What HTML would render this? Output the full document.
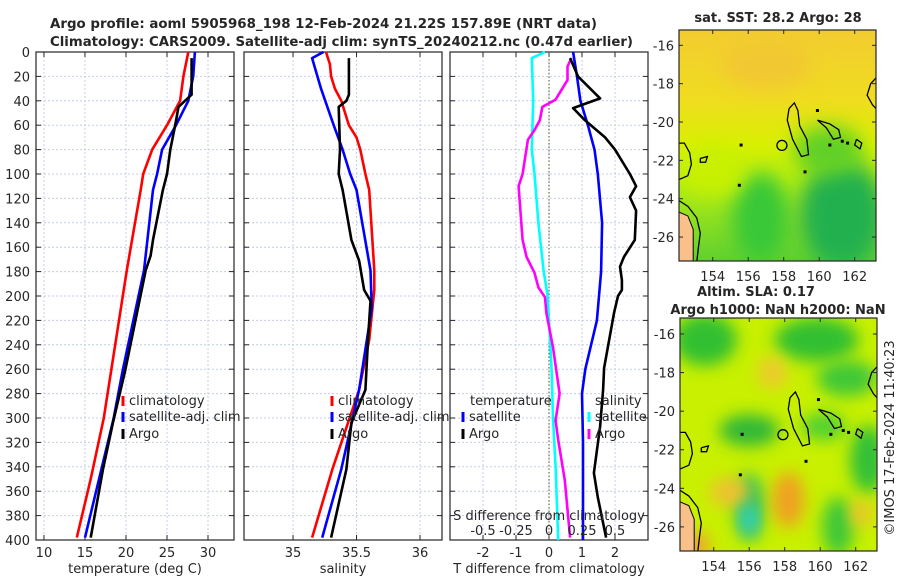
<!DOCTYPE html>
<html><head><meta charset="utf-8">
<style>
body{margin:0;background:#fff;}
svg text{font-family:"DejaVu Sans","Liberation Sans",sans-serif;fill:#262626;}
</style></head>
<body>
<svg id="fig" width="900" height="580" xmlns="http://www.w3.org/2000/svg">
<defs>
<filter id="blur1" x="-50%" y="-50%" width="200%" height="200%"><feGaussianBlur stdDeviation="10"/></filter>
<filter id="blur2" x="-50%" y="-50%" width="200%" height="200%"><feGaussianBlur stdDeviation="8"/></filter>
<linearGradient id="sstTop" x1="0" y1="0" x2="0" y2="1">
<stop offset="0" stop-color="#f2cc30"/><stop offset="0.3" stop-color="#f0dc20"/><stop offset="0.5" stop-color="#d8f000"/><stop offset="0.65" stop-color="#b8ee10"/><stop offset="1" stop-color="#60d030"/>
</linearGradient>
<clipPath id="clipM1"><rect x="679" y="30" width="197" height="231"/></clipPath>
<clipPath id="clipM2"><rect x="680" y="318" width="197" height="233"/></clipPath>
</defs>
<text x="50" y="28" font-size="13" font-weight="bold" textLength="547" lengthAdjust="spacingAndGlyphs">Argo profile: aoml 5905968_198 12-Feb-2024 21.22S 157.89E (NRT data)</text>
<text x="50" y="46" font-size="13" font-weight="bold" textLength="583" lengthAdjust="spacingAndGlyphs">Climatology: CARS2009. Satellite-adj clim: synTS_20240212.nc (0.47d earlier)</text>
<g id="root"></g>
</svg>
<script>
// ---------- data ----------
const depthTicks=[0,20,40,60,80,100,120,140,160,180,200,220,240,260,280,300,320,340,360,380,400];
const tTicks=[10,15,20,25,30];
const sTicks=[35,35.5,36];
const dTTicks=[-2,-1,0,1,2];
const dSTicks=[-0.5,-0.25,0,0.25,0.5];
const dSTickLabels=["-0.5","-0.25","0","0.25","0.5"];

const climTDepth=[0,20,40,60,80,100,113,179,261,300,350,398];
const climT=[27.6,27.0,26.6,25.0,23.2,22.1,21.8,20.1,18.2,17.3,15.7,14.0];
const satTDepth=[0,20,40,60,80,100,113,179,261,300,398];
const satT=[28.4,28.2,27.6,26.1,24.4,23.8,23.3,22.2,19.6,18.5,15.0];
const argoTDepth=[5,35,40,45,60,80,100,113,154,167,179,261,304,342,398];
const argoT=[28.0,28.0,27.2,26.4,26.0,25.4,25.0,24.5,23.3,23.0,22.4,19.9,18.4,17.2,15.7];

const climSDepth=[0,10,20,30,40,60,70,80,100,113,179,195,236,277,342,398];
const climS=[35.26,35.29,35.30,35.33,35.38,35.44,35.50,35.53,35.57,35.60,35.64,35.64,35.60,35.52,35.31,35.15];
const satSDepth=[0,5,30,60,80,100,113,179,210,277,342,398];
const satS=[35.24,35.15,35.22,35.32,35.39,35.45,35.50,35.61,35.62,35.52,35.38,35.23];
const argoSDepth=[5,35,40,45,80,100,113,154,171,195,204,236,277,304,342,398];
const argoS=[35.44,35.44,35.42,35.36,35.37,35.36,35.39,35.46,35.52,35.56,35.61,35.59,35.57,35.46,35.42,35.30];

const dTsatDepth=[0,20,40,60,80,100,140,180,220,260,280,320,360,400];
const dTsat=[0.73,0.85,0.95,1.18,1.38,1.48,1.61,1.58,1.45,1.10,1.00,1.03,1.03,1.03];
const dTargoDepth=[5,20,38,46,56,70,80,100,110,119,130,154,168,176,187,195,200,214,259,277,307,345,365,398];
const dTargo=[0.64,0.88,1.55,0.73,1.09,1.70,2.0,2.45,2.64,2.45,2.64,2.6,2.27,2.15,2.21,2.21,2.09,1.97,1.67,1.64,1.55,1.36,1.48,1.73];
const dSsatDepth=[0,5,40,80,100,140,180,200,260,300,340,400];
const dSsat=[-0.03,-0.13,-0.12,-0.13,-0.11,-0.08,-0.04,-0.01,0.02,0.03,0.05,0.07];
const dSargoDepth=[5,12,23,39,45,56,64,72,100,110,140,154,168,181,193,201,214,242,280,302,318,351,398];
const dSargo=[0.17,0.14,0.14,0.05,-0.05,-0.07,-0.11,-0.16,-0.20,-0.23,-0.21,-0.20,-0.17,-0.11,-0.08,-0.03,-0.02,0.03,0.08,0.05,0.07,0.12,0.16];

const mapLonTicks=[154,156,158,160,162];
const mapLatTicks=[-16,-18,-20,-22,-24,-26];

// ---------- helpers ----------
const NS="http://www.w3.org/2000/svg";
const root=document.getElementById('root');
function mk(tag,attrs,parent){const e=document.createElementNS(NS,tag);for(const k in attrs)e.setAttribute(k,attrs[k]);(parent||root).appendChild(e);return e;}
const PT=52,PB=540;
const yD=d=>PT+(d/400)*(PB-PT);
const panels=[
 {x0:36,x1:234,min:9.03,max:33.17,ticks:tTicks,name:'temperature-panel'},
 {x0:244,x1:442,min:34.614,max:36.173,ticks:sTicks,name:'salinity-panel'},
 {x0:450,x1:648,min:-3,max:3,ticks:dTTicks,name:'difference-panel'}
];
function xs(p,v){return p.x0+(v-p.min)/(p.max-p.min)*(p.x1-p.x0);}
const xDS=v=>549+v*132;

panels.forEach((p,i)=>{
  const g=mk('g',{});
  
  
  depthTicks.forEach(d=>{
    if(d>0&&d<400){const l=mk('line',{x1:p.x0,x2:p.x1,y1:yD(d),y2:yD(d),stroke:'#c6cde8','stroke-width':1,'stroke-dasharray':'2,2'},g);
    }
    mk('line',{x1:p.x0,x2:p.x0+5,y1:yD(d),y2:yD(d),stroke:'#262626'},g);
    mk('line',{x1:p.x1,x2:p.x1-5,y1:yD(d),y2:yD(d),stroke:'#262626'},g);
    if(i===0){const t=mk('text',{x:30,y:yD(d)+5,'font-size':13,'text-anchor':'end'},g);t.textContent=d;
      }
  });
  p.ticks.forEach((v,j)=>{
    const x=xs(p,v);
    const l=mk('line',{x1:x,x2:x,y1:PT,y2:PB,stroke:'#c6cde8','stroke-width':1,'stroke-dasharray':'2,2'},g);
    
    mk('line',{x1:x,x2:x,y1:PB,y2:PB-5,stroke:'#262626'},g);
    mk('line',{x1:x,x2:x,y1:PT,y2:PT+5,stroke:'#262626'},g);
    const t=mk('text',{x:x,y:557,'font-size':13,'text-anchor':'middle'},g);t.textContent=v;
    
  });
  const r=mk('rect',{x:p.x0,y:PT,width:p.x1-p.x0,height:PB-PT,fill:'none',stroke:'#262626','stroke-width':1.2},g);
  
});
[['temperature (deg C)',135],['salinity',343],['T difference from climatology',549]].forEach(([s,x])=>{
  const t=mk('text',{x:x,y:573,'font-size':13,'text-anchor':'middle'});t.textContent=s;
  
});
const zl=mk('line',{x1:549,x2:549,y1:PT,y2:PB,stroke:'#4a5a20','stroke-width':1,'stroke-dasharray':'1.5,2'});


function line(depths,vals,xf,color,name){
  const pts=depths.map((d,i)=>xf(vals[i]).toFixed(1)+','+yD(d).toFixed(1)).join(' ');
  const pl=mk('polyline',{points:pts,fill:'none',stroke:color,'stroke-width':2.6,'stroke-linejoin':'round'});
  
  
}
const P0=panels[0],P1=panels[1],P2=panels[2];
line(climTDepth,climT,v=>xs(P0,v),'#ff0000','climatology-temperature-line');
line(satTDepth,satT,v=>xs(P0,v),'#0000ff','satellite-temperature-line');
line(argoTDepth,argoT,v=>xs(P0,v),'#000000','argo-temperature-line');
line(climSDepth,climS,v=>xs(P1,v),'#ff0000','climatology-salinity-line');
line(satSDepth,satS,v=>xs(P1,v),'#0000ff','satellite-salinity-line');
line(argoSDepth,argoS,v=>xs(P1,v),'#000000','argo-salinity-line');
line(dSsatDepth,dSsat,xDS,'#00ffff','satellite-salinity-diff-line');
line(dSargoDepth,dSargo,xDS,'#ff00ff','argo-salinity-diff-line');
line(dTsatDepth,dTsat,v=>xs(P2,v),'#0000ff','satellite-temperature-diff-line');
line(dTargoDepth,dTargo,v=>xs(P2,v),'#000000','argo-temperature-diff-line');

const sdt=mk('text',{x:549,y:520,'font-size':13,'text-anchor':'middle'});sdt.textContent='S difference from climatology';

dSTicks.forEach((v,i)=>{const t=mk('text',{x:xDS(v),y:535,'font-size':13,'text-anchor':'middle'});t.textContent=dSTickLabels[i];
  });

function legendEntry(x,y,color,label,name){
  const g=mk('g',{});
  mk('line',{x1:x,x2:x,y1:y-9,y2:y+1,stroke:color,'stroke-width':3},g);
  const t=mk('text',{x:x+6,y:y,'font-size':13},g);t.textContent=label;
}
legendEntry(123,405,'#ff0000','climatology','legend-entry-climatology');
legendEntry(123,421,'#0000ff','satellite-adj. clim','legend-entry-satellite-adj');
legendEntry(123,438,'#000000','Argo','legend-entry-argo');
legendEntry(332,405,'#ff0000','climatology','legend-entry-climatology-s');
legendEntry(332,421,'#0000ff','satellite-adj. clim','legend-entry-satellite-adj-s');
legendEntry(332,438,'#000000','Argo','legend-entry-argo-s');
{const t=mk('text',{x:470,y:405,'font-size':13});t.textContent='temperature';}
{const t=mk('text',{x:595,y:405,'font-size':13});t.textContent='salinity';}
legendEntry(463,421,'#0000ff','satellite','legend-entry-temp-satellite');
legendEntry(463,438,'#000000','Argo','legend-entry-temp-argo');
legendEntry(589,421,'#00ffff','satellite','legend-entry-sal-satellite');
legendEntry(589,438,'#ff00ff','Argo','legend-entry-sal-argo');

// ---------- maps ----------
function mapPanel(x0,y0,w,h,latTop,latBot,clip,kind,name){
  const lonL=152.1,lonR=163.2;
  const mx=lon=>x0+(lon-lonL)/(lonR-lonL)*w;
  const my=lat=>y0+(latTop-lat)/(latTop-latBot)*h;
  const g=mk('g',{});
  const f=mk('g',{'clip-path':'url(#'+clip+')'},g);
  if(kind==='sst'){
    mk('rect',{x:x0,y:y0,width:w,height:h,fill:'url(#sstTop)'},f);
    mk('ellipse',{cx:mx(156.7),cy:my(-25),rx:28,ry:45,fill:'#38c838',filter:'url(#blur1)'},f);
    mk('ellipse',{cx:mx(161.3),cy:my(-24.8),rx:42,ry:55,fill:'#20b050',filter:'url(#blur1)'},f);
    mk('ellipse',{cx:mx(160.5),cy:my(-21.5),rx:35,ry:25,fill:'#60d028',filter:'url(#blur1)'},f);
    mk('ellipse',{cx:mx(154),cy:my(-22.5),rx:30,ry:25,fill:'#c8f000',filter:'url(#blur1)'},f);
    mk('ellipse',{cx:mx(157),cy:my(-17),rx:45,ry:25,fill:'#f2c830',filter:'url(#blur1)'},f);
  } else {
    mk('rect',{x:x0,y:y0,width:w,height:h,fill:'#c8f000'},f);
    [[153.5,-16.3,32,26,'#30c030'],[159.8,-16.3,42,22,'#30c030'],[161.5,-18.3,30,18,'#40c838'],[156,-21,30,16,'#30b838'],
     [160.2,-20.8,22,14,'#50d030'],[162.7,-22.5,18,34,'#30c038'],[161,-26,16,30,'#40c838'],[156,-25,15,34,'#30c060'],
     [157.3,-18,14,16,'#f0c830'],[154.9,-24.2,20,14,'#f0c030'],[158.2,-24.6,16,28,'#f0a020'],[162.3,-25.3,10,14,'#f0c030'],[153,-27,14,14,'#f0a030']]
     .forEach(b=>mk('ellipse',{cx:mx(b[0]),cy:my(b[1]),rx:b[2],ry:b[3],fill:b[4],filter:'url(#blur2)'},f));
    mk('ellipse',{cx:mx(156),cy:my(-25.6),rx:7,ry:14,fill:'#30d8e0',filter:'url(#blur2)'},f);
  }
  const land=[[152.1,-24.7],[152.6,-24.9],[152.9,-25.6],[152.9,-26.5],[152.9,-27.3],[152.1,-27.3]];
  mk('polygon',{points:land.map(p=>mx(p[0])+','+my(p[1])).join(' '),fill:'#f9c08a',stroke:'#000','stroke-width':1},f);
  const coasts=[
    [[152.1,-21.1],[152.4,-21.1],[152.7,-21.6],[152.8,-22.2],[152.6,-22.8],[152.1,-23]],
    [[152.1,-24.1],[152.6,-24.4],[153.1,-25],[153.3,-25.8],[153.2,-26.5],[153.1,-27.3]],
    [[158.3,-19.3],[158.6,-19],[158.8,-19.4],[158.9,-20.2],[159.3,-20.9],[159.4,-21.7],[159,-21.8],[158.5,-20.9],[158.2,-19.9],[158.3,-19.3]],
    [[159.9,-19.9],[160.6,-20.1],[161.1,-20.4],[161.2,-20.8],[160.8,-20.9],[160.4,-20.3],[159.9,-19.9]],
    [[162.1,-20.9],[162.4,-21.1],[162.3,-21.4],[162,-21.2],[162.1,-20.9]],
    [[163.2,-17.7],[162.9,-18],[162.7,-18.6],[163,-19.1],[163.2,-19.3]],
    [[153.3,-21.9],[153.7,-21.8],[153.6,-22.1],[153.3,-22.1],[153.3,-21.9]]
  ];
  coasts.forEach(c=>mk('polyline',{points:c.map(p=>mx(p[0])+','+my(p[1])).join(' '),fill:'none',stroke:'#000','stroke-width':1.3},f));
  mk('circle',{cx:mx(157.9),cy:my(-21.22),r:5,fill:'none',stroke:'#000','stroke-width':1.3},f);
  [[155.6,-21.2],[155.5,-23.3],[159.2,-22.6],[159.9,-19.4],[160.6,-21.2],[161.3,-21],[161.6,-21.1]].forEach(p=>
    mk('rect',{x:mx(p[0])-1.5,y:my(p[1])-1.5,width:3,height:3,fill:'#000'},f));
  const r=mk('rect',{x:x0,y:y0,width:w,height:h,fill:'none',stroke:'#262626','stroke-width':1.2},g);
  
  mapLatTicks.forEach(lat=>{
    const y=my(lat);
    mk('line',{x1:x0,x2:x0+4,y1:y,y2:y,stroke:'#262626'},g);mk('line',{x1:x0+w,x2:x0+w-4,y1:y,y2:y,stroke:'#262626'},g);
    const t=mk('text',{x:x0-5,y:y+5,'font-size':13,'text-anchor':'end'},g);t.textContent=lat;
    
  });
  mapLonTicks.forEach(lon=>{
    const x=mx(lon);
    mk('line',{x1:x,x2:x,y1:y0+h,y2:y0+h-4,stroke:'#262626'},g);mk('line',{x1:x,x2:x,y1:y0,y2:y0+4,stroke:'#262626'},g);
    const t=mk('text',{x:x,y:y0+h+20,'font-size':13,'text-anchor':'middle'},g);t.textContent=lon;
    
  });
}
mapPanel(679,30,197,231,-15.2,-27.25,'clipM1','sst','sst-map');
mapPanel(680,318,197,233,-15.17,-27.25,'clipM2','sla','sla-map');
[['sat. SST: 28.2 Argo: 28',778,22,'sst-map-title'],['Altim. SLA: 0.17',756,296,'sla-map-title'],['Argo h1000: NaN h2000: NaN',778,314,'argo-height-title']].forEach(a=>{
  const t=mk('text',{x:a[1],y:a[2],'font-size':13,'font-weight':'bold','text-anchor':'middle'});t.textContent=a[0];
  
});
{const t=mk('text',{x:0,y:0,'font-size':13,'text-anchor':'middle',transform:'translate(894,438) rotate(-90)'});
 t.textContent='©IMOS 17-Feb-2024 11:40:23';}
</script>
</body></html>
